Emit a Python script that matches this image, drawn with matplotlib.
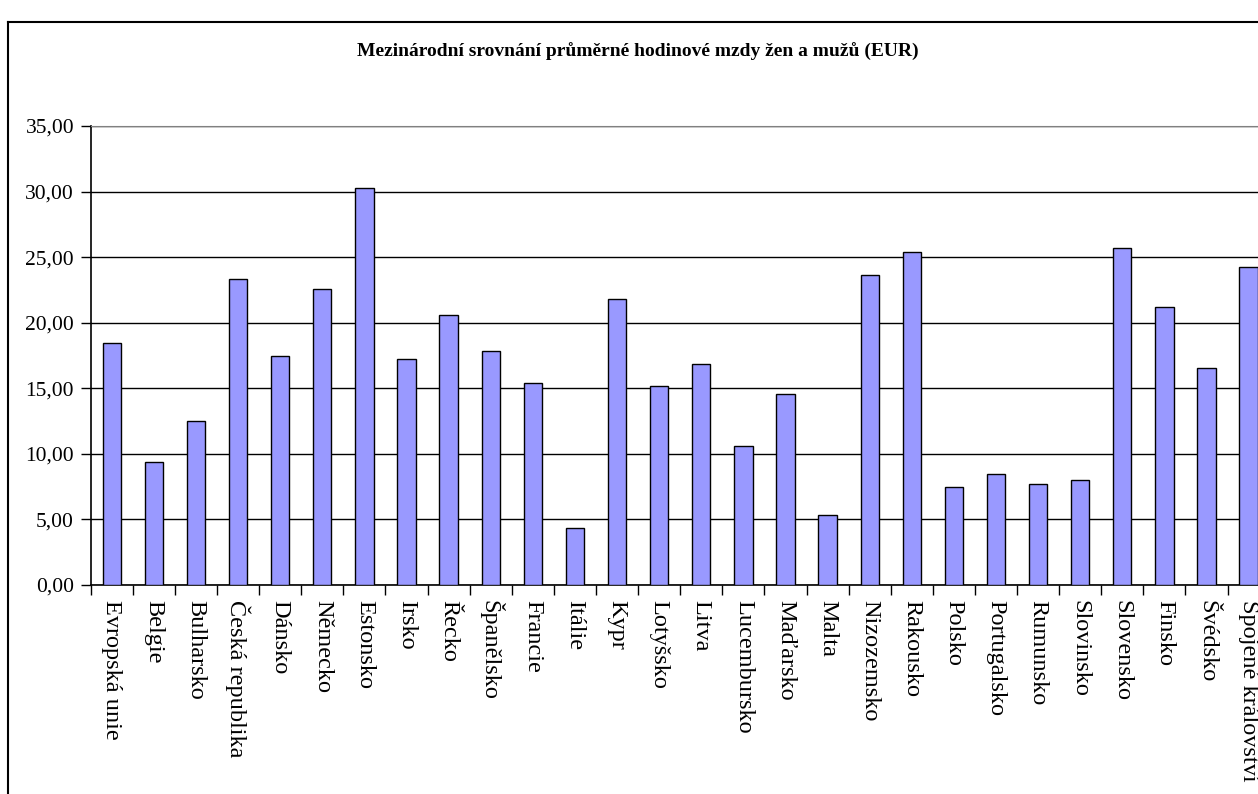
import numpy as np
import matplotlib.pyplot as plt
from matplotlib.lines import Line2D
from matplotlib.ticker import FuncFormatter

plt.rcParams['font.family'] = ['Liberation Serif', 'DejaVu Serif']

# Countries (labels under the bars)
countries = ['Evropská unie', 'Belgie', 'Bulharsko', 'Česká republika', 'Dánsko',
             'Německo', 'Estonsko', 'Irsko', 'Řecko', 'Španělsko', 'Francie',
             'Itálie', 'Kypr', 'Lotyšsko', 'Litva', 'Lucembursko', 'Maďarsko',
             'Malta', 'Nizozemsko', 'Rakousko', 'Polsko', 'Portugalsko',
             'Rumunsko', 'Slovinsko', 'Slovensko', 'Finsko', 'Švédsko',
             'Spojené království']
# Hourly wage in EUR
wages = [18.43, 9.41, 12.53, 23.37, 17.47, 22.55, 30.26, 17.26, 20.60, 17.87,
         15.43, 4.37, 21.82, 15.20, 16.88, 10.63, 14.59, 5.31, 23.67, 25.43,
         7.50, 8.44, 7.73, 7.98, 25.70, 21.23, 16.55, 24.23]
y_ticks = [0, 5, 10, 15, 20, 25, 30, 35]

title = 'Mezinárodní srovnání průměrné hodinové mzdy žen a mužů (EUR)'

fig = plt.figure(figsize=(12.58, 7.94), dpi=100)
# plot area runs past the right edge, like in the original screenshot
ax = fig.add_axes([0.0721, 0.2632, 0.9372, 0.5781])

x = np.arange(len(countries))
ax.bar(x, wages, width=0.435, color='#9999FF', edgecolor='black', linewidth=1.0, zorder=3)

ax.set_xlim(-0.5, len(countries) - 0.5)
ax.set_ylim(0, 35)
ax.set_yticks(y_ticks)
ax.yaxis.set_major_formatter(FuncFormatter(lambda v, p: f'{v:.2f}'.replace('.', ',')))
ax.yaxis.grid(True, color='black', linewidth=1.0)
ax.set_axisbelow(True)

ax.set_xticks(x)
ax.set_xticklabels(countries, rotation=270, fontsize=17.5)
ax.set_xticks(np.arange(-0.5, len(countries)), minor=True)
ax.tick_params(axis='x', which='major', length=0, pad=11)
ax.tick_params(axis='x', which='minor', length=7, width=1.0, direction='out')
ax.tick_params(axis='y', length=7, width=1.0, direction='out', labelsize=15.5, pad=5)

ax.spines['top'].set_color('#808080')
ax.spines['right'].set_color('#808080')
for s in ['left', 'bottom']:
    ax.spines[s].set_linewidth(1.2)

fig.text(0.507, 0.9345, title, ha='center', va='center', fontsize=14, fontweight='bold')

# chart frame (clipped on right and bottom)
fig.add_artist(Line2D([8 / 1258, 1.0], [1 - 22 / 794, 1 - 22 / 794], transform=fig.transFigure,
                      color='black', linewidth=1.5))
fig.add_artist(Line2D([8 / 1258, 8 / 1258], [0.0, 1 - 22 / 794], transform=fig.transFigure,
                      color='black', linewidth=1.5))

fig.savefig('out.png', dpi=100)
